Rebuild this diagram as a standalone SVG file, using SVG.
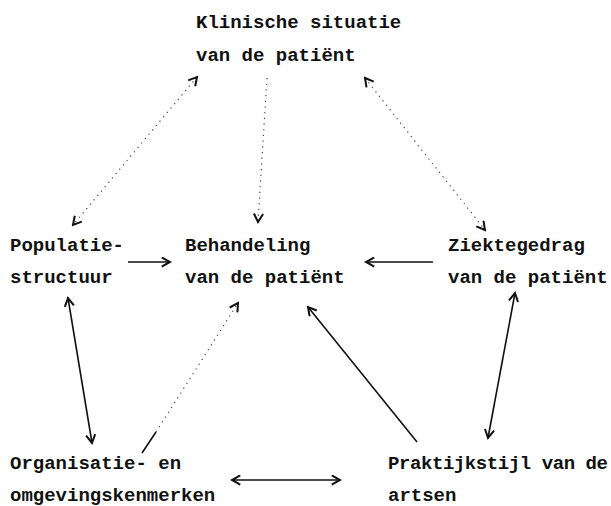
<svg xmlns="http://www.w3.org/2000/svg" width="611" height="506" viewBox="0 0 611 506">
<style>
text{font-family:"Liberation Mono","DejaVu Sans Mono",monospace;font-weight:bold;font-size:19px;fill:#111}
.s{stroke:#111;stroke-width:1.6;fill:none}
.d{stroke:#444;stroke-width:1.2;fill:none;stroke-dasharray:1.2 4.5}
</style>
<defs>
<marker id="ah" viewBox="0 0 12 12" refX="10" refY="6" markerWidth="11" markerHeight="11" markerUnits="userSpaceOnUse" orient="auto-start-reverse">
<path d="M1,1 L10,6 L1,11" fill="none" stroke="#111" stroke-width="2.2"/>
</marker>
</defs>
<rect width="611" height="506" fill="#fff"/>
<g id="klinische"><text x="196" y="28">Klinische situatie</text><text x="196" y="61">van de patiënt</text></g>
<g id="populatie"><text x="10" y="251">Populatie-</text><text x="10" y="283">structuur</text></g>
<g id="behandeling"><text x="185" y="251">Behandeling</text><text x="185" y="283">van de patiënt</text></g>
<g id="ziektegedrag"><text x="448" y="251">Ziektegedrag</text><text x="448" y="283">van de patiënt</text></g>
<g id="organisatie"><text x="10" y="469">Organisatie- en</text><text x="10" y="501">omgevingskenmerken</text></g>
<g id="praktijkstijl"><text x="388" y="469" textLength="220" lengthAdjust="spacing">Praktijkstijl van de</text><text x="388" y="501">artsen</text></g>
<g id="connectors">
<line class="d" x1="197" y1="77" x2="73" y2="225" marker-start="url(#ah)" marker-end="url(#ah)"/>
<line class="d" x1="267" y1="78" x2="258" y2="222" marker-end="url(#ah)"/>
<line class="d" x1="365" y1="78" x2="485" y2="230" marker-start="url(#ah)" marker-end="url(#ah)"/>
<line class="s" x1="128" y1="262" x2="170" y2="262" marker-end="url(#ah)"/>
<line class="s" x1="433" y1="262" x2="366" y2="262" marker-end="url(#ah)"/>
<line class="s" x1="68" y1="298" x2="92" y2="443" marker-start="url(#ah)" marker-end="url(#ah)"/>
<line class="s" x1="142" y1="453" x2="156" y2="432"/>
<line class="d" x1="156" y1="432" x2="238" y2="303" marker-end="url(#ah)"/>
<line class="s" x1="417" y1="442" x2="308" y2="307" marker-end="url(#ah)"/>
<line class="s" x1="515" y1="293" x2="488" y2="438" marker-start="url(#ah)" marker-end="url(#ah)"/>
<line class="s" x1="232" y1="480" x2="340" y2="480" marker-start="url(#ah)" marker-end="url(#ah)"/>
</g>
</svg>
